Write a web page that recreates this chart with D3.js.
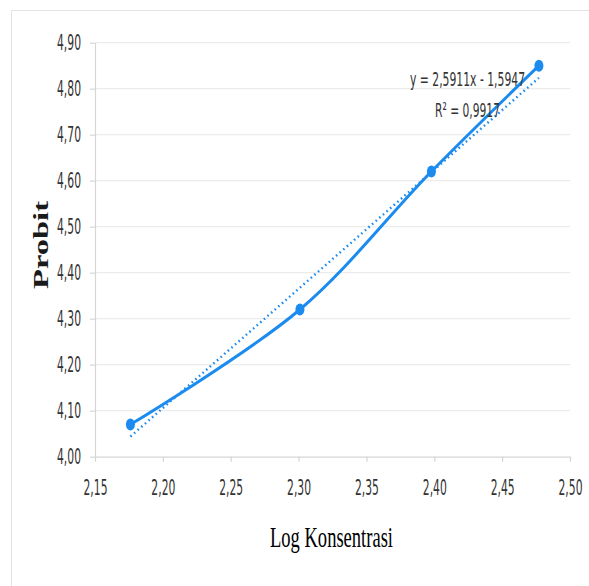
<!DOCTYPE html>
<html>
<head>
<meta charset="utf-8">
<script src="https://cdn.jsdelivr.net/npm/d3@7"></script>
<style>
  html, body { margin: 0; padding: 0; background: #fff; }
  svg { display: block; }
</style>
</head>
<body>
<svg id="chart" width="589" height="586"></svg>
<script>
// ---- data ----
const logKonsentrasi = [2.1761, 2.3010, 2.3979, 2.4771];
const probit = [4.07, 4.32, 4.62, 4.85];
const xTicks = [2.15, 2.20, 2.25, 2.30, 2.35, 2.40, 2.45, 2.50];
const yTicks = [4.00, 4.10, 4.20, 4.30, 4.40, 4.50, 4.60, 4.70, 4.80, 4.90];
const trendSlope = 2.5911;
const trendIntercept = -1.5947;
const equationLabel = "y = 2,5911x - 1,5947";
const r2Label = "R² = 0,9917";
const xTitle = "Log Konsentrasi";
const yTitle = "Probit";

// ---- drawing ----
const svg = d3.select("#chart");
const blue = "#1b8bef";
const textGrey = "#333333";
const fmt = v => v.toFixed(2).replace(".", ",");

const x = d3.scaleLinear().domain([2.15, 2.50]).range([95, 570]);
const y = d3.scaleLinear().domain([4.00, 4.90]).range([456.7, 42.7]);

// outer frame
svg.append("rect").attr("x", 11.5).attr("y", 10.5).attr("width", 620).attr("height", 620)
  .attr("fill", "none").attr("stroke", "#e3e3e3").attr("stroke-width", 1);

// gridlines
svg.append("g").selectAll("line").data(yTicks.filter(v => v > 4.0001)).join("line")
  .attr("x1", x(2.15)).attr("x2", x(2.50))
  .attr("y1", d => y(d)).attr("y2", d => y(d))
  .attr("stroke", "#ececec").attr("stroke-width", 1.2);

const tickFont = "'Liberation Sans Narrow', 'DejaVu Sans Condensed', sans-serif";

// y axis
const yAxis = svg.append("g").attr("transform", `translate(${x(2.15)},0)`)
  .call(d3.axisLeft(y).tickValues(yTicks).tickFormat(fmt).tickSize(5).tickSizeOuter(0).tickPadding(9));
yAxis.select(".domain").attr("stroke", "#d6d6d6").attr("stroke-width", 1.2);
yAxis.selectAll(".tick line").attr("stroke", "#d6d6d6").attr("stroke-width", 1.2);
yAxis.selectAll(".tick text")
  .attr("font-family", tickFont)
  .attr("font-size", 21).attr("fill", textGrey)
  .attr("textLength", 24).attr("lengthAdjust", "spacingAndGlyphs");

// x axis
const xAxis = svg.append("g").attr("transform", `translate(0,${y(4.00)})`)
  .call(d3.axisBottom(x).tickValues(xTicks).tickFormat(fmt).tickSize(5).tickSizeOuter(0).tickPadding(18));
xAxis.select(".domain").attr("stroke", "#d6d6d6").attr("stroke-width", 1.2);
xAxis.selectAll(".tick line").attr("stroke", "#d6d6d6").attr("stroke-width", 1.2);
xAxis.selectAll(".tick text")
  .attr("font-family", tickFont)
  .attr("font-size", 21).attr("fill", textGrey)
  .attr("textLength", 24).attr("lengthAdjust", "spacingAndGlyphs");

// trendline (linear, from equation, over data range)
const xMin = d3.min(logKonsentrasi), xMax = d3.max(logKonsentrasi);
svg.append("line")
  .attr("x1", x(xMin)).attr("y1", y(trendSlope * xMin + trendIntercept))
  .attr("x2", x(xMax)).attr("y2", y(trendSlope * xMax + trendIntercept))
  .attr("stroke", blue).attr("stroke-width", 2.4)
  .attr("stroke-dasharray", "1.6,3.2");

// smoothed series line
const pts = logKonsentrasi.map((v, i) => [v, probit[i]]);
svg.append("path").datum(pts)
  .attr("d", d3.line().x(d => x(d[0])).y(d => y(d[1])).curve(d3.curveCatmullRom.alpha(0.5)))
  .attr("fill", "none").attr("stroke", blue).attr("stroke-width", 3);

// markers
svg.append("g").selectAll("ellipse").data(pts).join("ellipse")
  .attr("cx", d => x(d[0])).attr("cy", d => y(d[1]))
  .attr("rx", 4.5).attr("ry", 6).attr("fill", blue);

// equation labels
svg.append("text").attr("x", 467.5).attr("y", 86).attr("text-anchor", "middle")
  .attr("font-family", tickFont).attr("font-size", 20).attr("fill", textGrey)
  .attr("textLength", 115).attr("lengthAdjust", "spacingAndGlyphs").text(equationLabel);
svg.append("text").attr("x", 467.5).attr("y", 117).attr("text-anchor", "middle")
  .attr("font-family", tickFont).attr("font-size", 20).attr("fill", textGrey)
  .attr("textLength", 65).attr("lengthAdjust", "spacingAndGlyphs").text(r2Label);

// axis titles
svg.append("text").attr("x", 331.5).attr("y", 546.5).attr("text-anchor", "middle")
  .attr("font-family", "'Liberation Serif', 'DejaVu Serif', serif")
  .attr("font-size", 29).attr("fill", "#000")
  .attr("textLength", 123).attr("lengthAdjust", "spacingAndGlyphs").text(xTitle);

svg.append("text").attr("transform", "translate(48,245) rotate(-90)").attr("text-anchor", "middle")
  .attr("font-family", "'Liberation Serif', 'DejaVu Serif', serif")
  .attr("font-weight", "bold").attr("font-size", 20).attr("fill", "#1a1a1a")
  .attr("textLength", 88).attr("lengthAdjust", "spacingAndGlyphs").text(yTitle);
</script>
</body>
</html>
